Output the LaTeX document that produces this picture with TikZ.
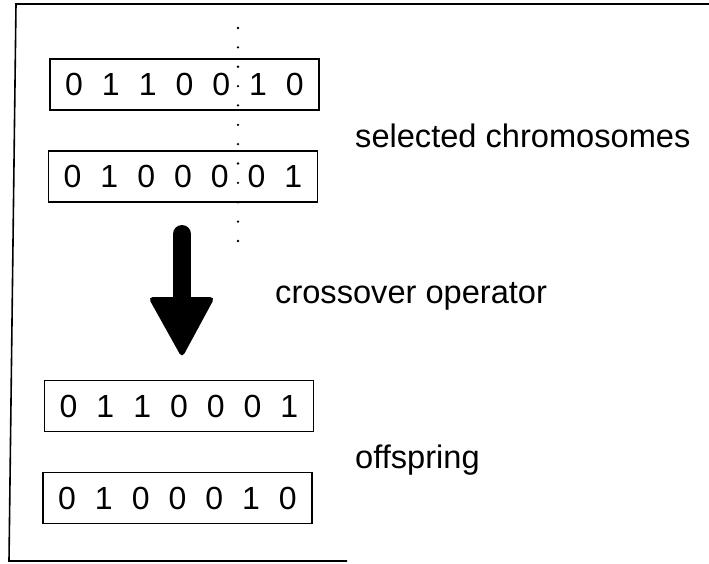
\documentclass[tikz,border=0pt]{standalone}
\usepackage{fontspec}
\setmainfont{Liberation Sans}
\newcommand\bitcell[1]{\makebox[36.8pt]{#1}}
\begin{document}
\begin{tikzpicture}[x=1pt,y=-1pt,
  chrom/.style={draw, line width=1.5pt, minimum width=269pt, minimum height=51pt,
    inner sep=0pt, font=\fontsize{32}{38}\selectfont},
  caption/.style={anchor=base west, inner sep=0pt, font=\fontsize{32.6}{39}\selectfont},
  cutline/.style={line width=2.6pt, line cap=round, dash pattern=on 0pt off 19.36pt},
  frameline/.style={line width=1.6pt}]
\useasboundingbox (0,0) rectangle (709,563);

% open frame: top edge runs off to the right, bottom edge stops short
\draw[frameline] (709,4) -- (16,4) -- (9,561) -- (347,561);

% parent chromosomes
\node[chrom] (p1) at (184.5,84.5) {\bitcell0\bitcell1\bitcell1\bitcell0\bitcell0\bitcell1\bitcell0};
\node[chrom] (p2) at (183,176.5) {\bitcell0\bitcell1\bitcell0\bitcell0\bitcell0\bitcell0\bitcell1};

% crossover point
\coordinate (cuttop) at (238,28);
\coordinate (cutbot) at (238,241);
\draw[cutline] (cuttop) -- (cutbot);

% offspring chromosomes
\node[chrom] (c1) at (179,406) {\bitcell0\bitcell1\bitcell1\bitcell0\bitcell0\bitcell0\bitcell1};
\node[chrom] (c2) at (177.5,498) {\bitcell0\bitcell1\bitcell0\bitcell0\bitcell0\bitcell1\bitcell0};

% thick downward arrow
\coordinate (shafttop) at (182,234);
\coordinate (shaftbot) at (182,302);
\coordinate (headl) at (148,297);
\coordinate (headr) at (215,297);
\coordinate (tip) at (182,358);
\draw[line width=18pt, line cap=round] (shafttop) -- (shaftbot);
\fill[rounded corners=5pt] (headl) -- (headr) -- (tip) -- cycle;

% captions
\node[caption] (lsel) at (355,147) {selected chromosomes};
\node[caption] (lcross) at (275,303) {crossover operator};
\node[caption] (loff) at (355,468) {offspring};
\end{tikzpicture}
\end{document}
